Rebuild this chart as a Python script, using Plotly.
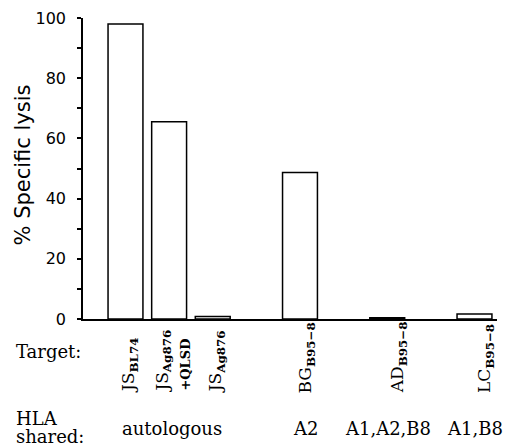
import plotly.graph_objects as go

# ---- data ----
target_names = ["JS", "JS", "JS", "BG", "AD", "LC"]
target_subs = ["BL74", "Ag876", "Ag876", "B95−8", "B95−8", "B95−8"]
target_extra = ["", "+QLSD", "", "", "", ""]
lysis = [98, 65.5, 0.8, 48.7, 0.4, 1.7]
hla_labels = ["autologous", "A2", "A1,A2,B8", "A1,B8"]
y_ticks = [0, 20, 40, 60, 80, 100]
y_title = "% Specific lysis"

# ---- layout helpers (positions / styles) ----
slots = [0, 1, 2, 4, 6, 8]
label_shift = [4, 3, 4, 7, 11, 11]
hla_slots = [1, 4, 6, 8]
hla_shift = [3, 6, 1, 1]

SERIF = "DejaVu Serif"
SANS = "DejaVu Sans"

fig = go.Figure()
fig.add_trace(go.Bar(
    x=slots, y=lysis, width=0.8,
    marker=dict(color="white", line=dict(color="black", width=1.5)),
    showlegend=False, hoverinfo="skip",
))

annotations = []
for s, name, sub, extra, sh in zip(slots, target_names, target_subs, target_extra, label_shift):
    txt = f"{name}<sub><b>{sub}</b></sub>"
    if extra:
        txt += f"<br><span style='font-size:13px'><b>{extra}</b></span>"
    annotations.append(dict(
        x=s, xref="x", y=0, yref="paper", yshift=-76, xshift=sh,
        text=txt, textangle=-90, showarrow=False,
        xanchor="center", yanchor="bottom", align="left",
        font=dict(family=SERIF, size=17, color="black"),
    ))

for s, lab, sh in zip(hla_slots, hla_labels, hla_shift):
    annotations.append(dict(
        x=s, xref="x", y=0, yref="paper", yshift=-109, xshift=sh,
        text=lab, showarrow=False, xanchor="center", yanchor="middle",
        font=dict(family=SERIF, size=18, color="black"),
    ))

for txt, yy in [("Target:", -32), ("HLA", -99), ("shared:", -117)]:
    annotations.append(dict(
        x=0, xref="paper", xshift=-69, y=0, yref="paper", yshift=yy,
        text=txt, showarrow=False, xanchor="left", yanchor="middle",
        font=dict(family=SERIF, size=18, color="black"),
    ))

# y-axis title as rotated annotation for exact placement
annotations.append(dict(
    x=0, xref="paper", xshift=-60, y=0.51, yref="paper",
    text=y_title, textangle=-90, showarrow=False,
    xanchor="center", yanchor="middle",
    font=dict(family=SANS, size=21, color="black"),
))

fig.update_layout(
    width=508, height=443,
    margin=dict(l=83, r=11, t=18, b=124),
    paper_bgcolor="white", plot_bgcolor="white",
    annotations=annotations,
    xaxis=dict(range=[-0.974, 8.516], showline=True, linecolor="black", linewidth=1.5,
               showticklabels=False, ticks="", showgrid=False, zeroline=False),
    yaxis=dict(range=[0, 100], showline=True, linecolor="black", linewidth=1.5,
               automargin=False,
               tickvals=y_ticks, ticks="outside", ticklen=4, tickwidth=1.5, tickcolor="black",
               minor=dict(dtick=10, ticks="outside", ticklen=4, tickwidth=1.5, tickcolor="black"),
               ticklabelstandoff=8,
               tickfont=dict(family=SANS, size=16, color="black"),
               showgrid=False, zeroline=False),
)

fig.write_html("out.html", config={"displayModeBar": False},
               post_script="document.body.style.margin='0';")
